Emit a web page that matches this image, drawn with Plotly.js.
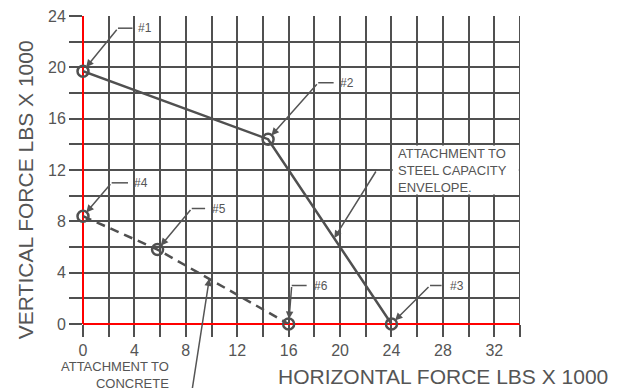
<!DOCTYPE html>
<html>
<head>
<meta charset="utf-8">
<script src="https://cdn.plot.ly/plotly-3.0.1.min.js"></script>
<style>html,body{margin:0;padding:0;background:#fff;}#chart{width:618px;height:388px;}</style>
</head>
<body>
<div id="chart"></div>
<script>
// ---- data ----
const steelX = [0, 14.4, 24];
const steelY = [19.7, 14.4, 0];
const steelLabels = ['#1', '#2', '#3'];
const concreteX = [0, 5.8, 16];
const concreteY = [8.4, 5.8, 0];
const concreteLabels = ['#4', '#5', '#6'];
const xTickVals = [0, 4, 8, 12, 16, 20, 24, 28, 32];
const yTickVals = [0, 4, 8, 12, 16, 20, 24];
const xTitle = 'HORIZONTAL FORCE LBS X 1000';
const yTitle = 'VERTICAL FORCE LBS X 1000';
const steelNote = 'ATTACHMENT TO<br>STEEL CAPACITY<br>ENVELOPE.';
const concreteNote = 'ATTACHMENT TO<br>CONCRETE';

// ---- styling / layout helpers ----
const GRID = '#505050';
const TXT = '#555555';
const FONT = '"Liberation Sans", Arial, Helvetica, sans-serif';
const XMAX = 34, YMAX = 24;

// leader placements for point labels: [elbowX, elbowY, segEndX, textX]
const leaderPos = {
  '#1': [2.72, 23.05, 3.85, 4.15],
  '#2': [18.3, 18.8, 19.5, 19.85],
  '#3': [27.0, 3.0, 27.9, 28.4],
  '#4': [2.23, 11.0, 3.5, 3.8],
  '#5': [8.46, 9.0, 9.5, 9.9],
  '#6': [16.24, 3.0, 17.4, 17.8]
};

const traces = [
  {x: steelX, y: steelY, type: 'scatter', mode: 'lines+markers',
   line: {color: GRID, width: 2.5},
   marker: {symbol: 'circle-open', size: 11, color: GRID, line: {width: 2.5, color: GRID}},
   hoverinfo: 'skip', cliponaxis: false},
  {x: concreteX, y: concreteY, type: 'scatter', mode: 'lines+markers',
   line: {color: GRID, width: 2.5, dash: '9px,6px'},
   marker: {symbol: 'circle-open', size: 11, color: GRID, line: {width: 2.5, color: GRID}},
   hoverinfo: 'skip', cliponaxis: false}
];

const shapes = [
  // white box behind the steel note
  {type: 'rect', xref: 'x', yref: 'y', x0: 24.09, x1: 33.91, y0: 10.09, y1: 13.91,
   fillcolor: '#ffffff', line: {width: 0}, layer: 'above'},
  // right border line of the grid (kept full width)
  {type: 'line', xref: 'x', yref: 'y', x0: XMAX, x1: XMAX, y0: 0, y1: YMAX,
   line: {color: GRID, width: 2}, layer: 'above'}
];
const annotations = [];

function addLeader(lbl, px, py) {
  const p = leaderPos[lbl];
  shapes.push({type: 'line', xref: 'x', yref: 'y', x0: p[0], y0: p[1], x1: p[2], y1: p[1],
    line: {color: TXT, width: 1.5}, layer: 'above'});
  annotations.push({x: px, y: py, ax: p[0], ay: p[1], xref: 'x', yref: 'y', axref: 'x', ayref: 'y',
    text: '', showarrow: true, arrowhead: 2, arrowsize: 1, arrowwidth: 1.5, arrowcolor: TXT, standoff: 5});
  annotations.push({x: p[3], y: p[1], xref: 'x', yref: 'y', text: lbl, showarrow: false,
    xanchor: 'left', yanchor: 'middle', font: {family: FONT, size: 12, color: TXT}});
}
steelLabels.forEach((l, i) => addLeader(l, steelX[i], steelY[i]));
concreteLabels.forEach((l, i) => addLeader(l, concreteX[i], concreteY[i]));

// steel note
shapes.push({type: 'line', xref: 'x', yref: 'y', x0: 22.86, y0: 12.0, x1: 24.0, y1: 12.0,
  line: {color: TXT, width: 1.5}, layer: 'above'});
annotations.push({x: 19.55, y: 6.7, ax: 22.86, ay: 12.0, xref: 'x', yref: 'y', axref: 'x', ayref: 'y',
  text: '', showarrow: true, arrowhead: 2, arrowsize: 1, arrowwidth: 1.5, arrowcolor: TXT, standoff: 0});
annotations.push({x: 24.35, y: 12.0, xref: 'x', yref: 'y', text: steelNote, showarrow: false,
  xanchor: 'left', yanchor: 'middle', align: 'left', font: {family: FONT, size: 13, color: TXT}});

// concrete note (outside the plot: paper coordinates)
annotations.push({x: 9.83, y: 3.55, ax: 8.48, ay: -5.2, xref: 'x', yref: 'y', axref: 'x', ayref: 'y',
  text: '', showarrow: true, arrowhead: 2, arrowsize: 1, arrowwidth: 1.5, arrowcolor: TXT, standoff: 0});
annotations.push({x: 6.77 / XMAX, y: 1, xref: 'paper', yref: 'paper', yshift: -342, text: concreteNote, showarrow: false,
  xanchor: 'right', yanchor: 'top', align: 'right', borderpad: 0, font: {family: FONT, size: 13, color: TXT}});

// axis titles (paper coordinates)
annotations.push({x: 27.98 / XMAX, y: -4.1 / YMAX, xref: 'paper', yref: 'paper', text: xTitle, showarrow: false,
  xanchor: 'center', yanchor: 'middle', font: {family: FONT, size: 21, color: TXT}});
annotations.push({x: -4.47 / XMAX, y: 10.47 / YMAX, xref: 'paper', yref: 'paper', text: yTitle, showarrow: false, textangle: -90,
  xanchor: 'center', yanchor: 'middle', font: {family: FONT, size: 21, color: TXT}});

const axisCommon = {
  showgrid: true, gridcolor: GRID, gridwidth: 2,
  ticks: 'outside', tickcolor: GRID, tickwidth: 2,
  zeroline: true, zerolinecolor: '#ff0000', zerolinewidth: 2,
  showline: false, fixedrange: true,
  tickfont: {family: FONT, size: 16, color: TXT}
};

const layout = {
  width: 618, height: 388,
  margin: {l: 83, r: 98, t: 16, b: 64},
  paper_bgcolor: '#ffffff', plot_bgcolor: '#ffffff',
  showlegend: false,
  xaxis: Object.assign({}, axisCommon, {
    range: [0, XMAX], tickmode: 'array', tickvals: xTickVals, ticktext: xTickVals.map(String), ticklen: 12,
    minor: {dtick: 2, tick0: 0, showgrid: true, gridcolor: GRID, gridwidth: 2, ticks: 'outside', ticklen: 12, tickcolor: GRID, tickwidth: 2}
  }),
  yaxis: Object.assign({}, axisCommon, {
    range: [0, YMAX], tickmode: 'array', tickvals: yTickVals, ticktext: yTickVals.map(String), ticklen: 13,
    minor: {dtick: 2, tick0: 0, showgrid: true, gridcolor: GRID, gridwidth: 2, ticks: 'outside', ticklen: 13, tickcolor: GRID, tickwidth: 2}
  }),
  shapes: shapes,
  annotations: annotations
};

Plotly.newPlot('chart', traces, layout, {staticPlot: true, displayModeBar: false});
</script>
</body>
</html>
